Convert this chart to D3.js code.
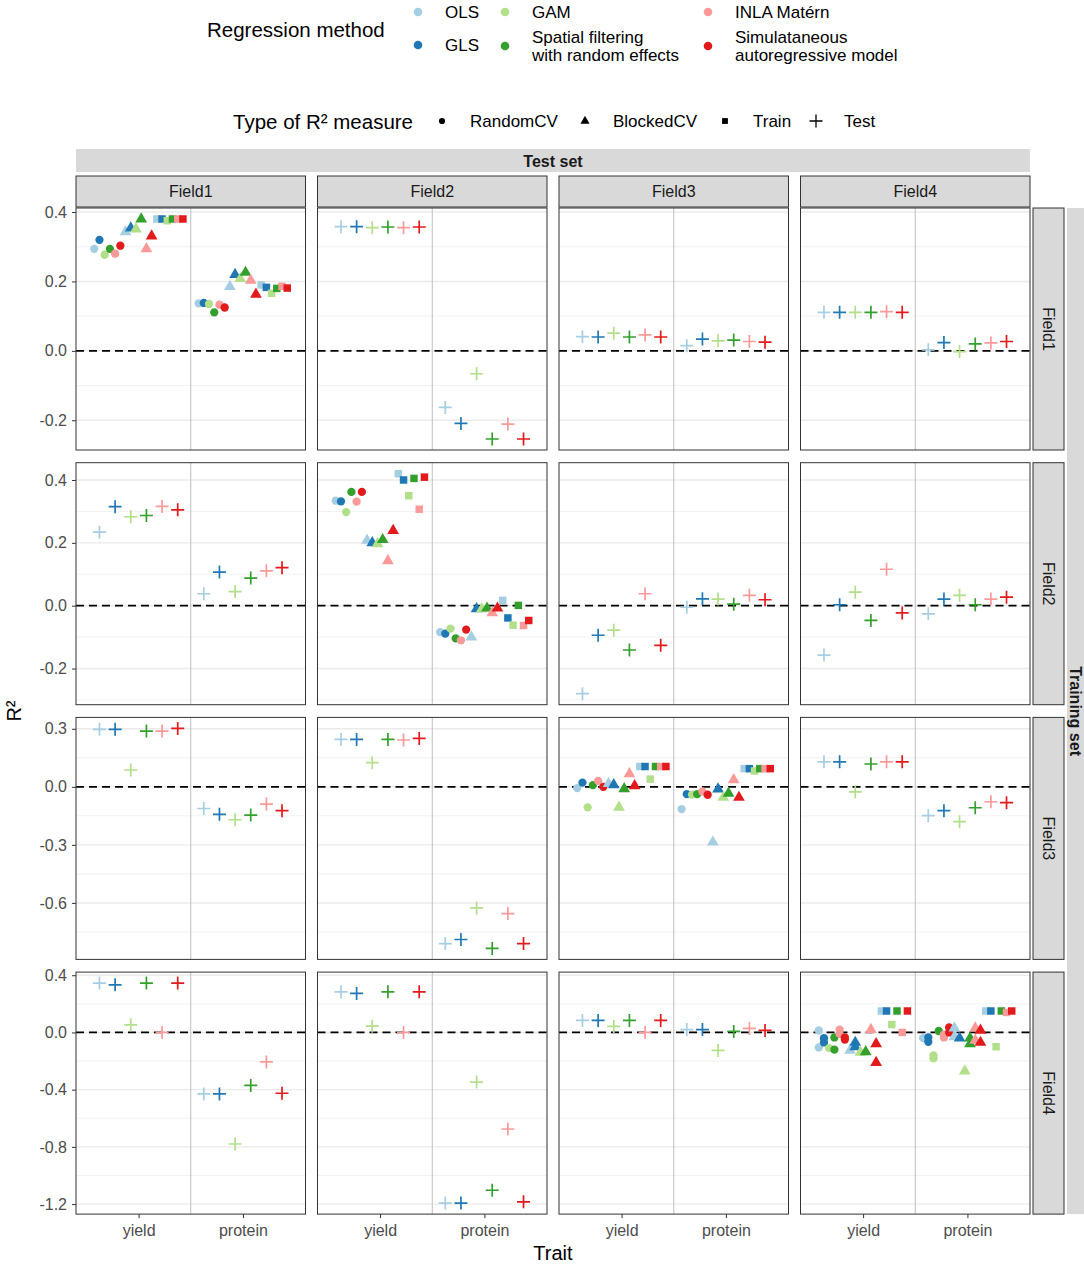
<!DOCTYPE html>
<html>
<head>
<meta charset="utf-8">
<script src="https://cdn.jsdelivr.net/npm/d3@7"></script>
<style>
  body { margin: 0; background: #fff; }
  svg { font-family: "Liberation Sans", Arial, sans-serif; }
</style>
</head>
<body>
<svg id="chart" width="1084" height="1267"></svg>
<script>
const methods = ["OLS", "GLS", "GAM", "Spatial filtering with random effects", "INLA Matérn", "Simulataneous autoregressive model"];
const methodColors = ["#a6cee3", "#1f78b4", "#b2df8a", "#33a02c", "#fb9a99", "#e31a1c"];
const measures = ["RandomCV", "BlockedCV", "Train", "Test"];
const fields = ["Field1", "Field2", "Field3", "Field4"];
const traits = ["yield", "protein"];
const yTicks = [[-0.2, 0, 0.2, 0.4], [-0.2, 0, 0.2, 0.4], [-0.6, -0.3, 0, 0.3], [-1.2, -0.8, -0.4, 0, 0.4]];

// test R² of a model trained on one field and predicted on another
// [test field, trait, OLS, GLS, GAM, SF, INLA, SAR]
const trainedField1 = [
    ["Field2", "yield", 0.358, 0.358, 0.355, 0.357, 0.355, 0.357],
    ["Field2", "protein", -0.163, -0.209, -0.066, -0.254, -0.211, -0.254],
    ["Field3", "yield", 0.041, 0.040, 0.051, 0.040, 0.046, 0.040],
    ["Field3", "protein", 0.015, 0.034, 0.029, 0.031, 0.027, 0.025],
    ["Field4", "yield", 0.111, 0.111, 0.111, 0.111, 0.113, 0.111],
    ["Field4", "protein", 0.003, 0.024, -0.002, 0.020, 0.023, 0.027]
];
const trainedField2 = [
    ["Field1", "yield", 0.234, 0.315, 0.283, 0.287, 0.316, 0.305],
    ["Field1", "protein", 0.038, 0.107, 0.045, 0.088, 0.111, 0.121],
    ["Field3", "yield", -0.280, -0.094, -0.078, -0.141, 0.038, -0.126],
    ["Field3", "protein", -0.005, 0.022, 0.021, 0.005, 0.033, 0.019],
    ["Field4", "yield", -0.157, 0.003, 0.043, -0.047, 0.116, -0.023],
    ["Field4", "protein", -0.026, 0.021, 0.033, 0.003, 0.021, 0.027]
];
const trainedField3 = [
    ["Field1", "yield", 0.297, 0.297, 0.087, 0.288, 0.288, 0.302],
    ["Field1", "protein", -0.112, -0.142, -0.170, -0.146, -0.089, -0.123],
    ["Field2", "yield", 0.245, 0.245, 0.125, 0.245, 0.242, 0.250],
    ["Field2", "protein", -0.810, -0.789, -0.626, -0.835, -0.655, -0.810],
    ["Field4", "yield", 0.129, 0.129, -0.026, 0.118, 0.129, 0.129],
    ["Field4", "protein", -0.149, -0.123, -0.180, -0.108, -0.077, -0.082]
];
const trainedField4 = [
    ["Field1", "yield", 0.345, 0.333, 0.053, 0.345, 0.000, 0.345],
    ["Field1", "protein", -0.430, -0.430, -0.780, -0.370, -0.206, -0.425],
    ["Field2", "yield", 0.284, 0.273, 0.044, 0.284, 0.000, 0.284],
    ["Field2", "protein", -1.193, -1.193, -0.347, -1.103, -0.675, -1.184],
    ["Field3", "yield", 0.084, 0.084, 0.042, 0.084, 0.000, 0.084],
    ["Field3", "protein", 0.020, 0.020, -0.126, 0.007, 0.028, 0.014]
];

// same field for training and test: CV and train R²
// [measure, trait, OLS, GLS, GAM, SF, INLA, SAR]  (a list = several values)
const cvField1 = [
    ["RandomCV", "yield", 0.294, 0.320, 0.277, 0.294, 0.280, 0.303],
    ["BlockedCV", "yield", 0.343, 0.354, 0.351, 0.380, 0.294, 0.331],
    ["Train", "yield", 0.380, 0.380, 0.375, 0.380, 0.380, 0.380],
    ["RandomCV", "protein", 0.137, 0.138, 0.135, 0.111, 0.133, 0.125],
    ["BlockedCV", "protein", 0.185, 0.220, 0.208, 0.226, 0.203, 0.163],
    ["Train", "protein", 0.190, 0.183, 0.166, 0.180, 0.186, 0.181]
];
const cvField2 = [
    ["RandomCV", "yield", 0.334, 0.332, 0.298, 0.362, 0.331, 0.362],
    ["BlockedCV", "yield", 0.208, 0.200, 0.197, 0.210, 0.143, 0.239],
    ["Train", "yield", 0.420, 0.400, 0.350, 0.405, 0.307, 0.409],
    ["RandomCV", "protein", -0.084, -0.089, -0.073, -0.104, -0.110, -0.076],
    ["BlockedCV", "protein", -0.100, -0.010, -0.010, -0.008, -0.023, -0.008],
    ["Train", "protein", 0.017, -0.039, -0.062, 0.001, -0.063, -0.047]
];
const cvField3 = [
    ["RandomCV", "yield", -0.007, 0.022, -0.106, 0.009, 0.031, 0.000],
    ["BlockedCV", "yield", 0.017, 0.010, -0.106, -0.010, 0.067, 0.005],
    ["Train", "yield", 0.105, 0.105, 0.040, 0.105, 0.105, 0.105],
    ["RandomCV", "protein", -0.115, -0.038, -0.040, -0.038, -0.024, -0.041],
    ["BlockedCV", "protein", -0.286, -0.012, -0.055, -0.034, 0.036, -0.055],
    ["Train", "protein", 0.094, 0.094, 0.082, 0.094, 0.094, 0.094]
];
const cvField4 = [
    ["RandomCV", "yield", [0.014, -0.105], [-0.04, -0.07], [-0.11], [-0.035, -0.12], [0.02, -0.01], [-0.035, -0.05]],
    ["BlockedCV", "yield", [-0.125], [-0.07, -0.10], [-0.14], [-0.135], [0.02], [-0.08, -0.21]],
    ["Train", "yield", [0.15], [0.15], [0.055], [0.15], [0.0], [0.15]],
    ["RandomCV", "protein", [-0.04], [-0.035, -0.065], [-0.16, -0.18], [0.01], [-0.015, -0.035], [0.035, 0.0]],
    ["BlockedCV", "protein", [0.03, -0.03], [-0.04], [-0.27], [-0.04, -0.08], [0.03, -0.055], [0.015, -0.07]],
    ["Train", "protein", [0.15], [0.15], [-0.10], [0.15], [0.14], [0.15]]
];

const offDiag = [trainedField1, trainedField2, trainedField3, trainedField4];
const diag = [cvField1, cvField2, cvField3, cvField4];

// flatten to one record per point
const points = [];
fields.forEach((train, r) => {
    offDiag[r].forEach(row => {
        const [test, trait, ...vals] = row;
        vals.forEach((v, k) => points.push({ train, test, trait, measure: "Test", method: methods[k], color: methodColors[k], value: v }));
    });
    diag[r].forEach(row => {
        const [measure, trait, ...vals] = row;
        vals.forEach((v, k) => [].concat(v).forEach(vv =>
            points.push({ train, test: train, trait, measure, method: methods[k], color: methodColors[k], value: vv })));
    });
});

const svg = d3.select("#chart");
const pw = 229.5, ph = 242;
const colX = fields.map((f, i) => 76 + i * 241.5);
const rowY = fields.map((f, i) => 208 + i * 254.7);

const x = d3.scalePoint().domain(traits).range([0, pw]).padding(0.6);
const step = x.step();
const diagKeys = d3.cross(measures.slice(0, 3), methods, (m, k) => m + "|" + k);
const testKeys = methods.map(k => "Test|" + k);
const dodgeDiag = d3.scaleBand().domain(diagKeys).range([-0.45 * step, 0.45 * step]);
const dodgeTest = d3.scaleBand().domain(testKeys).range([-0.45 * step, 0.45 * step]);

const shapePath = {
    RandomCV: d3.symbol(d3.symbolCircle, 54)(),
    BlockedCV: d3.symbol(d3.symbolTriangle, 60)(),
    Train: d3.symbol(d3.symbolSquare, 56)(),
    Test: "M-6.5,0H6.5M0,-6.5V6.5"
};

function drawShape(sel, measure, color) {
    sel.attr("d", shapePath[measure]);
    if (measure === "Test") sel.attr("fill", "none").attr("stroke", color).attr("stroke-width", 1.7);
    else sel.attr("fill", color);
}

fields.forEach((train, r) => {
    const rowPts = points.filter(p => p.train === train);
    const [lo, hi] = d3.extent(rowPts, p => p.value);
    const pad = (hi - lo) * 0.05;
    const y = d3.scaleLinear().domain([lo - pad, hi + pad]).range([ph, 0]);
    const major = yTicks[r];
    const st = major[1] - major[0];
    const minor = d3.range(major[0] - st / 2, major[major.length - 1] + st, st)
        .filter(v => v >= y.domain()[0] && v <= y.domain()[1]);

    fields.forEach((test, c) => {
        const g = svg.append("g").attr("transform", `translate(${colX[c]},${rowY[r]})`);
        g.append("rect").attr("width", pw).attr("height", ph).attr("fill", "#fff");

        g.selectAll(".minor").data(minor).enter().append("line")
            .attr("x1", 0).attr("x2", pw)
            .attr("y1", d => y(d)).attr("y2", d => y(d))
            .attr("stroke", "#ebebeb").attr("stroke-width", 0.7);
        g.selectAll(".major").data(major).enter().append("line")
            .attr("x1", 0).attr("x2", pw)
            .attr("y1", d => y(d)).attr("y2", d => y(d))
            .attr("stroke", "#ebebeb").attr("stroke-width", 1.4);

        const mid = (x("yield") + x("protein")) / 2;
        g.append("line").attr("x1", mid).attr("x2", mid).attr("y1", 0).attr("y2", ph)
            .attr("stroke", "#bebebe").attr("stroke-width", 1);
        g.append("line").attr("x1", 0).attr("x2", pw).attr("y1", y(0)).attr("y2", y(0))
            .attr("stroke", "#000").attr("stroke-width", 1.8).attr("stroke-dasharray", "8,5");

        const pts = rowPts.filter(p => p.test === test);
        g.selectAll(".pt").data(pts).enter().append("path")
            .attr("transform", p => {
                const key = p.measure + "|" + p.method;
                const dx = p.measure === "Test" ? dodgeTest(key) + dodgeTest.bandwidth() / 2
                                                : dodgeDiag(key) + dodgeDiag.bandwidth() / 2;
                return `translate(${x(p.trait) + dx},${y(p.value)})`;
            })
            .each(function (p) { drawShape(d3.select(this), p.measure, p.color); });

        g.append("rect").attr("width", pw).attr("height", ph)
            .attr("fill", "none").attr("stroke", "#333").attr("stroke-width", 1);

        if (c === 0) {
            const ax = g.append("g").call(d3.axisLeft(y).tickValues(major).tickSize(4).tickPadding(5)
                .tickFormat(d => d.toFixed(1)));
            ax.select(".domain").remove();
            ax.selectAll("line").attr("stroke", "#333");
            ax.selectAll("text").attr("font-size", 16).attr("fill", "#4d4d4d")
                .attr("font-family", "Liberation Sans, Arial, sans-serif");
        }
        if (r === fields.length - 1) {
            const ax = g.append("g").attr("transform", `translate(0,${ph})`)
                .call(d3.axisBottom(x).tickSize(4).tickPadding(7));
            ax.select(".domain").remove();
            ax.selectAll("line").attr("stroke", "#333");
            ax.selectAll("text").attr("font-size", 16).attr("fill", "#4d4d4d")
                .attr("font-family", "Liberation Sans, Arial, sans-serif");
        }
    });

    // row strip (training field)
    const rs = svg.append("g").attr("transform", `translate(1033,${rowY[r]})`);
    rs.append("rect").attr("width", 31).attr("height", ph)
        .attr("fill", "#d9d9d9").attr("stroke", "#333").attr("stroke-width", 1);
    rs.append("text").attr("transform", `translate(15.5,${ph / 2}) rotate(90)`)
        .attr("text-anchor", "middle").attr("dominant-baseline", "central")
        .attr("font-size", 16).attr("fill", "#1a1a1a").text(train);
});

// column strips (test field)
fields.forEach((test, c) => {
    const cs = svg.append("g").attr("transform", `translate(${colX[c]},176)`);
    cs.append("rect").attr("width", pw).attr("height", 31)
        .attr("fill", "#d9d9d9").attr("stroke", "#333").attr("stroke-width", 1);
    cs.append("text").attr("x", pw / 2).attr("y", 15.5)
        .attr("text-anchor", "middle").attr("dominant-baseline", "central")
        .attr("font-size", 16).attr("fill", "#1a1a1a").text(test);
});

const gridLeft = colX[0], gridRight = colX[3] + pw;
svg.append("rect").attr("x", gridLeft).attr("y", 149).attr("width", gridRight - gridLeft).attr("height", 23)
    .attr("fill", "#d9d9d9");
svg.append("text").attr("x", (gridLeft + gridRight) / 2).attr("y", 161)
    .attr("text-anchor", "middle").attr("dominant-baseline", "central")
    .attr("font-size", 16).attr("font-weight", "bold").attr("fill", "#1a1a1a").text("Test set");

const gridTop = rowY[0], gridBottom = rowY[3] + ph;
svg.append("rect").attr("x", 1067).attr("y", gridTop).attr("width", 24).attr("height", gridBottom - gridTop)
    .attr("fill", "#d9d9d9");
svg.append("text").attr("transform", `translate(1075,${(gridTop + gridBottom) / 2}) rotate(90)`)
    .attr("text-anchor", "middle").attr("dominant-baseline", "central")
    .attr("font-size", 16).attr("font-weight", "bold").attr("fill", "#1a1a1a").text("Training set");

// axis titles
svg.append("text").attr("x", (gridLeft + gridRight) / 2).attr("y", 1260)
    .attr("text-anchor", "middle").attr("font-size", 20).text("Trait");
svg.append("text").attr("transform", `translate(21,${(gridTop + gridBottom) / 2}) rotate(-90)`)
    .attr("text-anchor", "middle").attr("font-size", 20).text("R²");

// legend: regression method
const leg = svg.append("g");
leg.append("text").attr("x", 207).attr("y", 37).attr("font-size", 20.5).text("Regression method");
const legendCells = [
    { x: 418, y: 12, lines: ["OLS"] },
    { x: 418, y: 45, lines: ["GLS"] },
    { x: 505, y: 12, lines: ["GAM"] },
    { x: 505, y: 46, lines: ["Spatial filtering", "with random effects"] },
    { x: 708, y: 12, lines: ["INLA Matérn"] },
    { x: 708, y: 46, lines: ["Simulataneous", "autoregressive model"] }
];
legendCells.forEach((cell, k) => {
    leg.append("circle").attr("cx", cell.x).attr("cy", cell.y).attr("r", 4.3).attr("fill", methodColors[k]);
    const t = leg.append("text").attr("x", cell.x + 27).attr("font-size", 17);
    const y0 = cell.y - (cell.lines.length - 1) * 9;
    cell.lines.forEach((ln, i) => t.append("tspan").attr("x", cell.x + 27).attr("y", y0 + i * 18)
        .attr("dominant-baseline", "central").text(ln));
});

// legend: type of R² measure
leg.append("text").attr("x", 233).attr("y", 121).attr("dominant-baseline", "central")
    .attr("font-size", 20.5).text("Type of R² measure");
const measureKeyX = [442, 585, 725, 816];
measures.forEach((m, i) => {
    const p = leg.append("path").attr("transform", `translate(${measureKeyX[i]},121)`);
    drawShape(p, m, "#000");
    if (m === "RandomCV") p.attr("d", d3.symbol(d3.symbolCircle, 30)());
    if (m === "BlockedCV") p.attr("d", d3.symbol(d3.symbolTriangle, 36)());
    if (m === "Train") p.attr("d", d3.symbol(d3.symbolSquare, 34)());
    if (m === "Test") p.attr("stroke-width", 1.3);
    leg.append("text").attr("x", measureKeyX[i] + 28).attr("y", 121).attr("dominant-baseline", "central")
        .attr("font-size", 17).text(m);
});
</script>
</body>
</html>
